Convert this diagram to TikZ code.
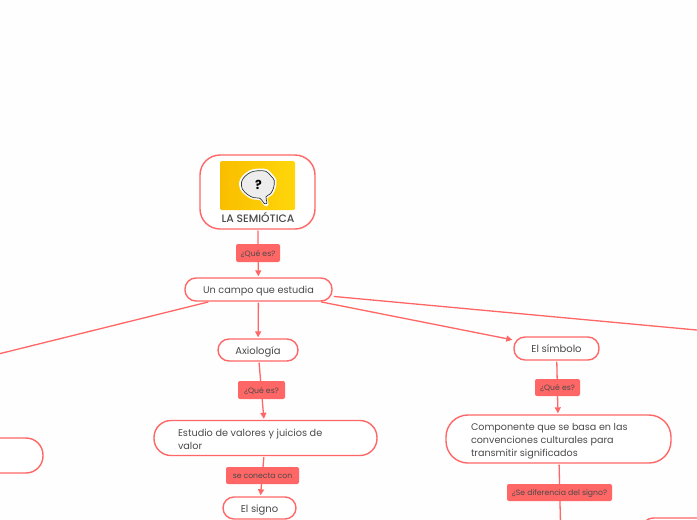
\documentclass[tikz,border=0pt]{standalone}
\usepackage{fontspec}
\setmainfont{Poppins}
\newfontfamily\mediumface{Poppins Medium}
\usetikzlibrary{arrows.meta}
\definecolor{coral}{HTML}{FF6666}
\definecolor{inktext}{HTML}{4A4A4A}
\definecolor{goldtop}{HTML}{FFD60A}
\definecolor{goldside}{HTML}{F9BE00}
\tikzset{
  x=1pt,y=-1pt,
  conceptbox/.style={draw=coral,line width=1.4pt,fill=white,rounded corners=11pt,
    text=inktext,font=\fontsize{10}{13}\selectfont,inner sep=0pt,align=center,
    text height=8pt,text depth=0pt},
  widebox/.style={draw=coral,line width=1.4pt,fill=white,rounded corners=17pt,
    text=inktext,font=\fontsize{9.7}{13}\selectfont,inner ysep=0pt,inner xsep=24pt},
  linkbox/.style={fill=coral,rounded corners=2pt,text=inktext,
    font=\fontsize{7.7}{9}\selectfont,inner sep=0pt,align=center,
    text height=6pt,text depth=0pt},
  link/.style={draw=coral,line width=1.3pt,-{Triangle[length=6pt,width=6pt]},shorten >=1pt,shorten <=1pt},
}
% outline of the speech bubble
\def\bubbleoutline{plot[smooth cycle,tension=.55] coordinates {
    (243.3,176) (250,171) (258.3,169.3) (266.7,170) (272.3,175.3) (275.7,180)
    (275,187.7) (271.7,194.3) (266.7,197.7) (267.7,204.3) (265,205) (260,199.3)
    (253.3,198.7) (246.7,195.3) (241,189.3) (240,182)}}
\begin{document}
\begin{tikzpicture}
\useasboundingbox (0,0) rectangle (697,520);
\clip (0,0) rectangle (697,520);
\fill[white!99.5!black] (0,0) rectangle (697,520);

% topic boxes
\node[conceptbox,rounded corners=20pt,minimum width=115pt,minimum height=74pt] (root) at (257.5,192) {};
\node[conceptbox,minimum width=147pt,minimum height=23pt,font=\fontsize{9.7}{13}\selectfont] (campo) at (258.5,289.5) {Un campo que estudia};
\node[conceptbox,minimum width=80pt,minimum height=22pt] (axio) at (258,350) {Axiología};
\node[conceptbox,minimum width=85pt,minimum height=23pt] (simbolo) at (556.5,348.5) {El símbolo};
\node[conceptbox,minimum width=73pt,minimum height=22pt] (signo) at (259.5,508) {El signo};
\node[widebox,minimum width=223pt,minimum height=35pt] (estudio) at (265.5,438)
  {\raisebox{-4pt}[0pt][0pt]{\parbox[c]{175pt}{\raggedright Estudio de valores y juicios de\\valor}}};
\node[widebox,rounded corners=22pt,inner xsep=25pt,font=\fontsize{9.6}{13}\selectfont,minimum width=225pt,minimum height=48pt] (compo) at (558.5,439)
  {\raisebox{-4.5pt}[0pt][0pt]{\parbox[c]{175pt}{\raggedright Componente que se basa en las\\convenciones culturales para\\transmitir significados}}};
\node[conceptbox,rounded corners=17pt,minimum width=120pt,minimum height=35pt] (izq) at (-17,455.5) {};
\node[conceptbox,rounded corners=14pt,minimum width=120pt,minimum height=40pt] (der) at (700,538) {};

% picture inside the root box: a speech bubble on a yellow ground
\node[left color=goldside,right color=goldtop,rounded corners=1.5pt,minimum width=75pt,minimum height=49pt,inner sep=0pt] (foto) at (257.5,185.5) {};
\draw[fill=white,draw=white,line width=1.5pt] \bubbleoutline;
\begin{scope}[shift={(258,186.5)},scale=.92,shift={(-258,-186.5)}]
  \draw[fill=white!93!black,draw=black!80,line width=.7pt] \bubbleoutline;
\end{scope}
\node[font=\bfseries\fontsize{12.5}{12}\selectfont,text=black,inner sep=0pt] (marca) at (258.5,184.5) {?};
\node[text=inktext,font=\mediumface\fontsize{10.8}{11}\selectfont,inner sep=0pt] (titulo) at (258,217.5) {LA SEMIÓTICA};

% free ends of links that run off the sheet
\coordinate (salidaizq) at (-42,364);
\coordinate (salidader) at (740,334);
\coordinate (salidabaj) at (561,545);

% connectors
\draw[link] (root) -- (campo);
\draw[link] (campo) -- (axio);
\draw[link] (campo) -- (simbolo);
\draw[link] (campo) -- (salidaizq);
\draw[link] (campo) -- (salidader);
\draw[link] (axio) -- (estudio);
\draw[link] (estudio) -- (signo);
\draw[link] (simbolo) -- (compo);
\draw[link] (compo) -- (salidabaj);

% link labels
\node[linkbox,minimum width=44pt,minimum height=18pt] (q1) at (258,253) {¿Qué es?};
\node[linkbox,minimum width=47pt,minimum height=18pt] (q2) at (261.5,390) {¿Qué es?};
\node[linkbox,minimum width=73pt,minimum height=17pt] (q3) at (262.5,475.5) {se conecta con};
\node[linkbox,minimum width=45pt,minimum height=17pt] (q4) at (557.5,387.5) {¿Qué es?};
\node[linkbox,minimum width=105pt,minimum height=17pt] (q5) at (559.5,492.5) {¿Se diferencia del signo?};
\end{tikzpicture}
\end{document}
